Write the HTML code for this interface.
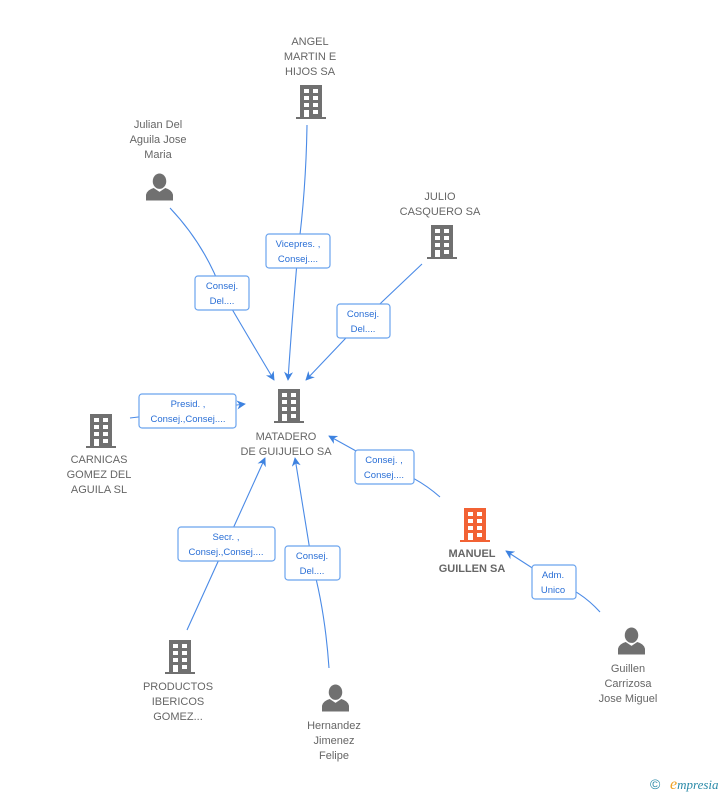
<!DOCTYPE html>
<html><head><meta charset="utf-8"><style>
body{margin:0;background:#fff;width:728px;height:795px;overflow:hidden}
svg{font-family:"Liberation Sans",sans-serif}
.t{font-size:11px;fill:#666;text-anchor:middle}
.b{font-size:11px;fill:#666;text-anchor:middle;font-weight:bold}
.l{font-size:9.5px;fill:#2a6fd6;text-anchor:middle}
.ln{stroke:#4a8ae6;stroke-width:1.1;fill:none}
.bx{fill:#fff;stroke:#6aa3ee;stroke-width:1.2}
</style></head><body>
<svg width="728" height="795" viewBox="0 0 728 795">
<defs>
<symbol id="bld" viewBox="0 0 32 34">
<rect x="5" y="0" width="22" height="32"/>
<rect x="1" y="32" width="30" height="2"/>
<g fill="#fff">
<rect x="9" y="4" width="5" height="4"/><rect x="18" y="4" width="5" height="4"/>
<rect x="9" y="11" width="5" height="4"/><rect x="18" y="11" width="5" height="4"/>
<rect x="9" y="18" width="5" height="4"/><rect x="18" y="18" width="5" height="4"/>
<rect x="9" y="25" width="5" height="7"/><rect x="18" y="25" width="5" height="4"/>
</g>
</symbol>
<symbol id="per" viewBox="0 0 28 28">
<ellipse cx="14" cy="8" rx="7" ry="8"/>
<path d="M0 28 L0 22 Q1 17 8 15 L14 19 L20 15 Q27 17 28 22 L28 28Z"/>
</symbol>
<marker id="ar" viewBox="0 0 10 10" refX="9" refY="5" markerWidth="9" markerHeight="9" orient="auto" markerUnits="userSpaceOnUse"><path d="M0 0L10 5L0 10L3 5Z" fill="#3d82e0"/></marker>
</defs>

<!-- lines -->
<path class="ln" d="M307 125 Q306 190 298 251 Q292 320 288 380" marker-end="url(#ar)"/>
<path class="ln" d="M170 208 Q205 245 222 292 Q250 340 274 380" marker-end="url(#ar)"/>
<path class="ln" d="M422 264 L363 320 L306 380" marker-end="url(#ar)"/>
<path class="ln" d="M130 418 L188 411 L245 404" marker-end="url(#ar)"/>
<path class="ln" d="M440 497 Q415 475 385 467 L329 436" marker-end="url(#ar)"/>
<path class="ln" d="M187 630 L226 544 L265 458" marker-end="url(#ar)"/>
<path class="ln" d="M329 668 Q325 610 312 563 L295 458" marker-end="url(#ar)"/>
<path class="ln" d="M600 612 Q580 590 554 582 L506 551" marker-end="url(#ar)"/>

<!-- boxes -->
<rect class="bx" x="266" y="234" width="64" height="34" rx="3"/>
<text class="l" x="298" y="247">Vicepres. ,</text><text class="l" x="298" y="262">Consej....</text>
<rect class="bx" x="195" y="276" width="54" height="34" rx="3"/>
<text class="l" x="222" y="289">Consej.</text><text class="l" x="222" y="304">Del....</text>
<rect class="bx" x="337" y="304" width="53" height="34" rx="3"/>
<text class="l" x="363" y="317">Consej.</text><text class="l" x="363" y="332">Del....</text>
<rect class="bx" x="139" y="394" width="97" height="34" rx="3"/>
<text class="l" x="188" y="407">Presid. ,</text><text class="l" x="188" y="422">Consej.,Consej....</text>
<rect class="bx" x="355" y="450" width="59" height="34" rx="3"/>
<text class="l" x="384" y="463">Consej. ,</text><text class="l" x="384" y="478">Consej....</text>
<rect class="bx" x="178" y="527" width="97" height="34" rx="3"/>
<text class="l" x="226" y="540">Secr. ,</text><text class="l" x="226" y="555">Consej.,Consej....</text>
<rect class="bx" x="285" y="546" width="55" height="34" rx="3"/>
<text class="l" x="312" y="559">Consej.</text><text class="l" x="312" y="574">Del....</text>
<rect class="bx" x="532" y="565" width="44" height="34" rx="3"/>
<text class="l" x="553" y="578">Adm.</text><text class="l" x="553" y="593">Unico</text>

<!-- nodes -->
<g fill="#707070">
<use href="#bld" x="295" y="85" width="32" height="34"/>
<use href="#bld" x="426" y="225" width="32" height="34"/>
<use href="#bld" x="273" y="389" width="32" height="34"/>
<use href="#bld" x="85" y="414" width="32" height="34"/>
<use href="#bld" x="164" y="640" width="32" height="34"/>
<use href="#per" x="146" y="173" width="27" height="28"/>
<use href="#per" x="322" y="684" width="27" height="28"/>
<use href="#per" x="618" y="627" width="27" height="28"/>
</g>
<use href="#bld" x="459" y="508" width="32" height="34" fill="#f26234"/>

<text class="t" x="310" y="45">ANGEL</text><text class="t" x="310" y="60">MARTIN E</text><text class="t" x="310" y="75">HIJOS SA</text>
<text class="t" x="158" y="128">Julian Del</text><text class="t" x="158" y="143">Aguila Jose</text><text class="t" x="158" y="158">Maria</text>
<text class="t" x="440" y="200">JULIO</text><text class="t" x="440" y="215">CASQUERO SA</text>
<text class="t" x="286" y="440">MATADERO</text><text class="t" x="286" y="455">DE GUIJUELO SA</text>
<text class="t" x="99" y="463">CARNICAS</text><text class="t" x="99" y="478">GOMEZ DEL</text><text class="t" x="99" y="493">AGUILA  SL</text>
<text class="b" x="472" y="557">MANUEL</text><text class="b" x="472" y="572">GUILLEN SA</text>
<text class="t" x="178" y="690">PRODUCTOS</text><text class="t" x="178" y="705">IBERICOS</text><text class="t" x="178" y="720">GOMEZ...</text>
<text class="t" x="334" y="729">Hernandez</text><text class="t" x="334" y="744">Jimenez</text><text class="t" x="334" y="759">Felipe</text>
<text class="t" x="628" y="672">Guillen</text><text class="t" x="628" y="687">Carrizosa</text><text class="t" x="628" y="702">Jose Miguel</text>

<text x="650" y="789" font-size="14" fill="#2a8aa8">©</text>
<text x="670" y="789" font-size="13" font-style="italic" fill="#2a8aa8" font-family="Liberation Serif,serif"><tspan fill="#f0a020" font-size="16">e</tspan>mpresia</text>
</svg>
</body></html>
